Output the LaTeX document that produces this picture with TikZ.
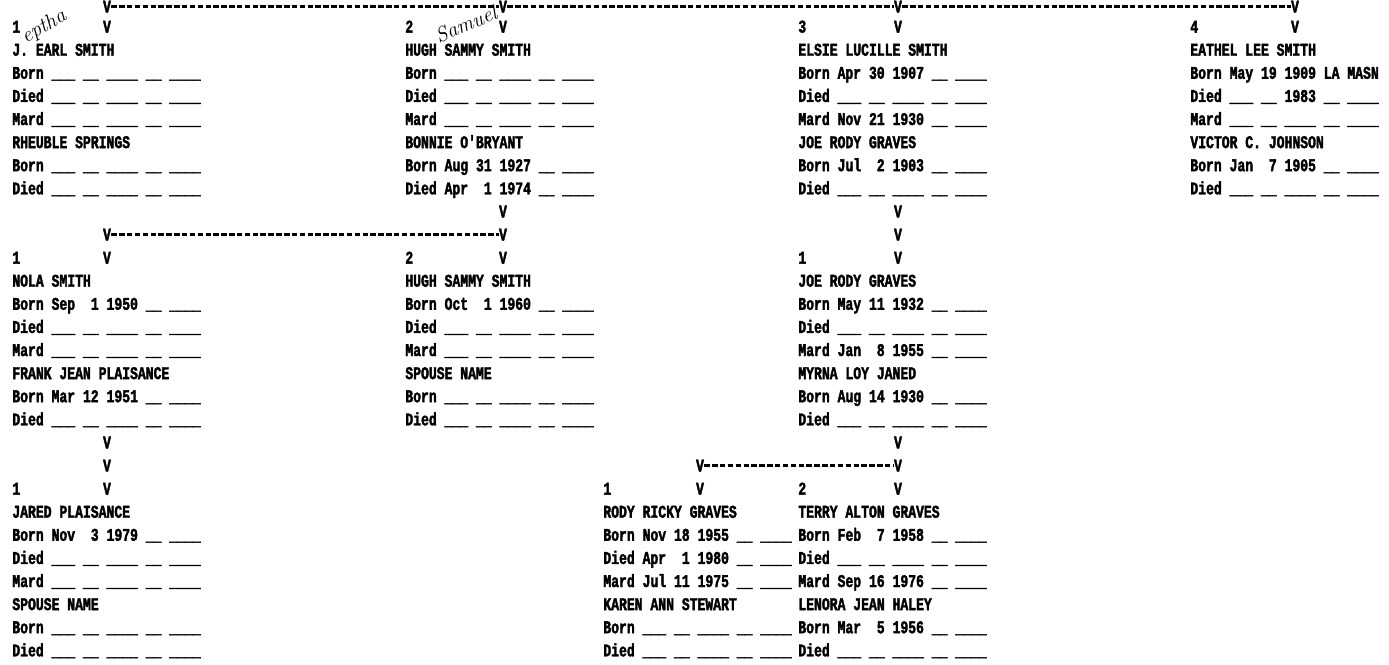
\documentclass[tikz,border=0pt]{standalone}
\usepackage{fontspec}
\newfontfamily\dotfont[FakeStretch=0.73,FakeBold=2]{Liberation Mono}
\newcommand{\nodate}{\_\_\_ \_\_ \_\_\_\_ \_\_ \_\_\_\_}
\newcommand{\noyear}{\_\_ \_\_\_\_}

\begin{document}
\begin{tikzpicture}[x=0.02cm,y=-0.02cm,
  prt/.style={font=\dotfont\bfseries\fontsize{10.2}{13}\selectfont, anchor=base west, inner sep=0pt},
  vmark/.style={font=\dotfont\bfseries\fontsize{10.2}{13}\selectfont, anchor=base, inner sep=0pt},
  dashline/.style={line width=1.3pt, dash pattern=on 3.1pt off 1.37pt},
  hand/.style={font=\itshape\fontsize{12}{12}\selectfont, inner sep=0pt}]
  \useasboundingbox (0,0) rectangle (1389,664);
  % one block per person: number, V, name, dates, spouse
  \foreach \id/\x/\vx/\row/\nr/\who/\born/\died/\mard/\spouse/\sborn/\sdied in {
    a1/12/107/1/1/J. EARL SMITH/\nodate/\nodate/\nodate/RHEUBLE SPRINGS/\nodate/\nodate,
    b1/405/503/1/2/HUGH SAMMY SMITH/\nodate/\nodate/\nodate/BONNIE O'BRYANT/Aug 31 1927 \noyear/Apr~~1 1974 \noyear,
    c1/798/898/1/3/ELSIE LUCILLE SMITH/Apr 30 1907 \noyear/\nodate/Nov 21 1930 \noyear/JOE RODY GRAVES/Jul~~2 1903 \noyear/\nodate,
    d1/1190/1295/1/4/EATHEL LEE SMITH/May 19 1909 LA MASN/\_\_\_ \_\_ 1983 \noyear/\nodate/VICTOR C. JOHNSON/Jan~~7 1905 \noyear/\nodate,
    a2/12/107/11/1/NOLA SMITH/Sep~~1 1950 \noyear/\nodate/\nodate/FRANK JEAN PLAISANCE/Mar 12 1951 \noyear/\nodate,
    b2/405/503/11/2/HUGH SAMMY SMITH/Oct~~1 1960 \noyear/\nodate/\nodate/SPOUSE NAME/\nodate/\nodate,
    c2/798/898/11/1/JOE RODY GRAVES/May 11 1932 \noyear/\nodate/Jan~~8 1955 \noyear/MYRNA LOY JANED/Aug 14 1930 \noyear/\nodate,
    a3/12/107/21/1/JARED PLAISANCE/Nov~~3 1979 \noyear/\nodate/\nodate/SPOUSE NAME/\nodate/\nodate,
    r3/603/700/21/1/RODY RICKY GRAVES/Nov 18 1955 \noyear/Apr~~1 1980 \noyear/Jul 11 1975 \noyear/KAREN ANN STEWART/\nodate/\nodate,
    c3/798/898/21/2/TERRY ALTON GRAVES/Feb~~7 1958 \noyear/\nodate/Sep 16 1976 \noyear/LENORA JEAN HALEY/Mar~~5 1956 \noyear/\nodate} {
    \node[prt] (nr\id) at (\x,{9.5+23.1*\row}) {\nr};
    \node[vmark] (v\id) at (\vx,{9.5+23.1*\row}) {V};
    \node[prt] (who\id) at (\x,{9.5+23.1*(\row+1)}) {\who};
    \node[prt] (born\id) at (\x,{9.5+23.1*(\row+2)}) {Born \born};
    \node[prt] (died\id) at (\x,{9.5+23.1*(\row+3)}) {Died \died};
    \node[prt] (mard\id) at (\x,{9.5+23.1*(\row+4)}) {Mard \mard};
    \node[prt] (sp\id) at (\x,{9.5+23.1*(\row+5)}) {\spouse};
    \node[prt] (spborn\id) at (\x,{9.5+23.1*(\row+6)}) {Born \sborn};
    \node[prt] (spdied\id) at (\x,{9.5+23.1*(\row+7)}) {Died \sdied};
  }
  % V marks between generations
  \foreach \id/\x/\y in {ta/107/12.5, tb/503/12.5, tc/898/12.5, td/1295/12.5,
    b9/503/217.4, c9/898/217.4, a10/107/240.5, b10/503/240.5, c10/898/240.5,
    a19/107/448.4, c19/898/448.4, a20/107/471.5, r20/700/471.5, c20/898/471.5}
    \node[vmark] (v\id) at (\x,\y) {V};
  \draw[dashline] (vta) -- (vtb) -- (vtc) -- (vtd);
  \draw[dashline] (va10) -- (vb10);
  \draw[dashline] (vr20) -- (vc20);
  % pencil notes
  \node[hand, rotate=30] (jeptha) at (44,27) {eptha};
  \node[hand, rotate=23] (samuel) at (466,24) {Samuel};
\end{tikzpicture}
\end{document}
